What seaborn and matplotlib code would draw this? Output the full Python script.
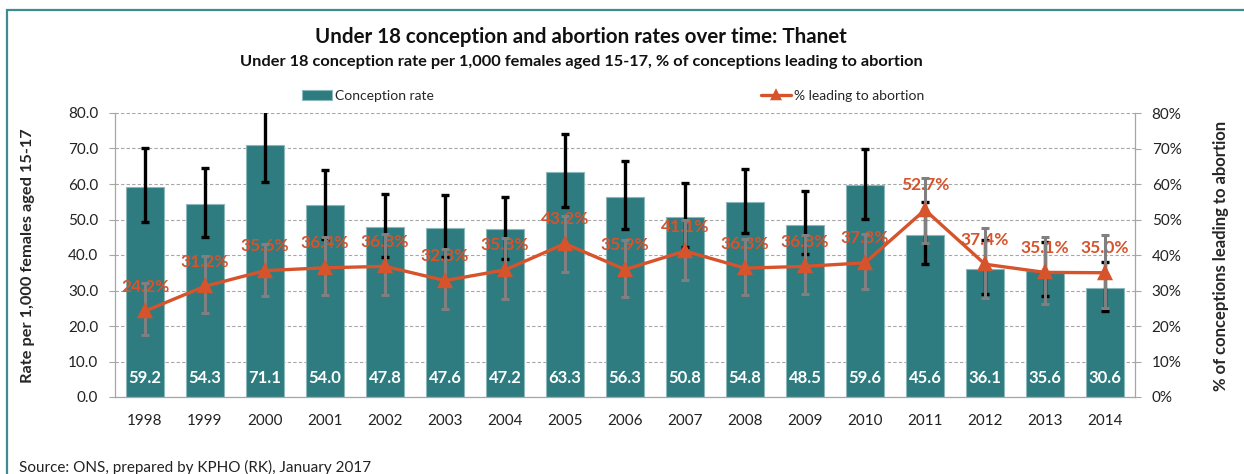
import numpy as np
import matplotlib
matplotlib.use("Agg")
import matplotlib.pyplot as plt
from matplotlib.patches import Rectangle
from matplotlib.ticker import FuncFormatter
import seaborn as sns

years = ['1998', '1999', '2000', '2001', '2002', '2003', '2004', '2005', '2006',
         '2007', '2008', '2009', '2010', '2011', '2012', '2013', '2014']
# conception rate per 1,000 and its confidence interval
rate = [59.2, 54.3, 71.1, 54.0, 47.8, 47.6, 47.2, 63.3, 56.3, 50.8, 54.8, 48.5, 59.6, 45.6, 36.1, 35.6, 30.6]
rate_lo = [49.4, 45.0, 60.5, 44.6, 39.5, 39.3, 39.0, 53.4, 47.4, 42.3, 46.1, 40.4, 50.1, 37.5, 28.9, 28.5, 24.3]
rate_hi = [70.1, 64.6, 82.5, 64.0, 57.2, 57.0, 56.2, 74.0, 66.4, 60.4, 64.3, 57.9, 69.8, 54.9, 44.2, 43.8, 37.9]
# % of conceptions leading to abortion and its confidence interval
pct = [24.2, 31.2, 35.6, 36.4, 36.8, 32.8, 35.8, 43.2, 35.9, 41.1, 36.3, 36.8, 37.8, 52.7, 37.4, 35.1, 35.0]
pct_lo = [17.5, 23.8, 28.5, 28.7, 28.7, 24.8, 27.5, 35.3, 28.3, 33.0, 28.7, 28.9, 30.3, 43.5, 28.0, 26.2, 25.0]
pct_hi = [32.2, 39.8, 43.1, 45.2, 45.8, 41.7, 44.9, 51.0, 44.2, 49.9, 44.4, 45.6, 45.9, 61.8, 47.6, 45.2, 45.7]

teal = '#2E7B80'
orange = '#D6532C'
grey_err = '#808080'
axis_grey = '#A6A6A6'

sns.set_style('white')
plt.rcParams['font.family'] = ['Lato', 'DejaVu Sans']

W, H = 1244, 474
fig = plt.figure(figsize=(W / 100, H / 100), dpi=100)
ax = fig.add_axes([115 / W, 1 - 397 / H, 1020 / W, 284 / H])

sns.barplot(x=years, y=rate, ax=ax, color=teal, saturation=1, width=0.62,
            edgecolor='#8DB8BB', linewidth=0.8, label='Conception rate', zorder=2)
xpos = np.arange(len(years))
r = np.array(rate)
ax.errorbar(xpos, r, yerr=[r - np.array(rate_lo), np.array(rate_hi) - r], fmt='none',
            ecolor='black', elinewidth=2.4, capsize=2.8, capthick=2.4, zorder=3)
for xi, v in zip(xpos, rate):
    ax.text(xi, 5.4, f'{v:.1f}', ha='center', va='center', color='white',
            fontsize=12, fontweight='bold', zorder=4)

ax.set_ylim(0, 80)
ax.set_xlim(-0.5, len(years) - 0.5)
ax.set_yticks(np.arange(0, 81, 10))
ax.yaxis.set_major_formatter(FuncFormatter(lambda v, p: f'{v:.1f}'))
ax.set_axisbelow(True)
ax.grid(axis='y', color=axis_grey, linestyle=(0, (3, 2)), linewidth=0.8)
ax.grid(axis='x', visible=False)
for s in ['top', 'right']:
    ax.spines[s].set_visible(False)
for s in ['left', 'bottom']:
    ax.spines[s].set_color(axis_grey)
    ax.spines[s].set_linewidth(0.9)
ax.set_xticks(np.arange(-0.5, len(years), 1), minor=True)
ax.tick_params(axis='x', which='major', length=0, pad=12, labelsize=11, labelcolor='#222222')
ax.tick_params(axis='x', which='minor', length=4, color=axis_grey, direction='out')
ax.tick_params(axis='y', which='major', length=4, color=axis_grey, direction='out',
               left=True, pad=8, labelsize=11, labelcolor='#222222')
ax.set_xlabel('')
ax.set_ylabel('Rate per 1,000 females aged 15-17', fontsize=11.8, fontweight='bold')
ax.yaxis.set_label_coords(-0.0784, 0.496)

ax2 = ax.twinx()
p = np.array(pct)
ax2.errorbar(xpos, p, yerr=[p - np.array(pct_lo), np.array(pct_hi) - p], fmt='none',
             ecolor=grey_err, elinewidth=2.2, capsize=2.8, capthick=2.2, zorder=2)
sns.pointplot(x=years, y=pct, ax=ax2, color=orange, markers='^', errorbar=None,
              markersize=8.5, linewidth=2.4, label='% leading to abortion')
for xi, v in zip(xpos, pct):
    ax2.text(xi, v + 6.9, f'{v:.1f}%', ha='center', va='center', color=orange,
             fontsize=12.5, fontweight='bold', zorder=1)
ax2.set_ylim(0, 80)
ax2.set_xlim(-0.5, len(years) - 0.5)
ax2.set_yticks(np.arange(0, 81, 10))
ax2.yaxis.set_major_formatter(FuncFormatter(lambda v, p: f'{v:.0f}%'))
for s in ['top', 'left', 'bottom']:
    ax2.spines[s].set_visible(False)
ax2.spines['right'].set_color(axis_grey)
ax2.spines['right'].set_linewidth(0.9)
ax2.tick_params(axis='y', length=4, color=axis_grey, direction='out', right=True,
                pad=8, labelsize=11, labelcolor='#222222')
ax2.grid(False)
ax2.set_ylabel('% of conceptions leading to abortion', fontsize=12, fontweight='bold')
ax2.yaxis.set_label_coords(1.0765, 0.496)

h1, l1 = ax.get_legend_handles_labels()
h2, l2 = ax2.get_legend_handles_labels()
for a in (ax, ax2):
    if a.get_legend() is not None:
        a.get_legend().remove()
leg = fig.legend(h1 + h2, l1 + l2, loc='center', bbox_to_anchor=(613 / W, 1 - 96 / H), ncol=2,
                 frameon=False, fontsize=10, handlelength=2.2, handletextpad=0.2,
                 columnspacing=23.5)
for lh in leg.legend_handles[1:]:
    lh.set_markersize(6)

fig.text(581 / W, 1 - 37 / H, 'Under 18 conception and abortion rates over time: Thanet',
         ha='center', va='center', fontsize=14.8, fontweight='bold', color='#111111')
fig.text(581 / W, 1 - 62 / H,
         'Under 18 conception rate per 1,000 females aged 15-17, % of conceptions leading to abortion',
         ha='center', va='center', fontsize=11.8, fontweight='bold', color='#111111')
fig.text(19 / W, 1 - 467 / H, 'Source: ONS, prepared by KPHO (RK), January 2017',
         ha='left', va='center', fontsize=11, color='#222222')

fig.patches.append(Rectangle((7 / W, -0.1), 1.2, 1.1 - 10 / H, transform=fig.transFigure,
                             fill=False, edgecolor='#3E8C90', linewidth=1.6))

fig.savefig('out.png', dpi=100)
